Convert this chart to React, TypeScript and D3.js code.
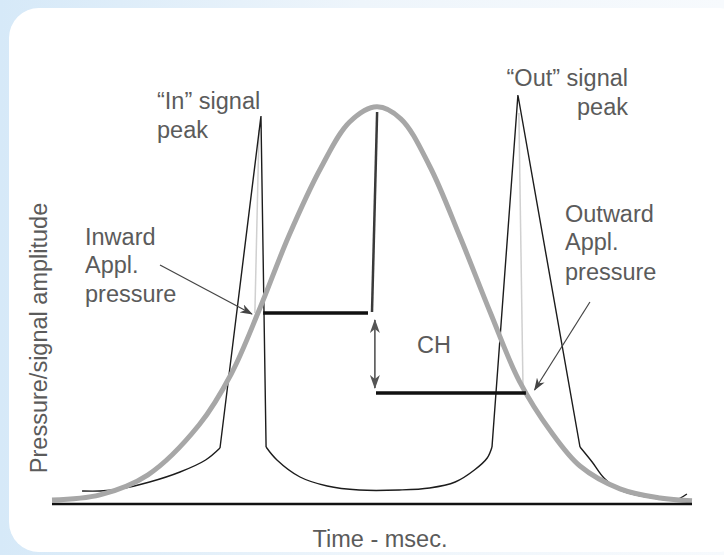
import * as d3 from 'd3';

// time axis in msec (0..200), amplitude in % (0..100)
const pressureT = [0, 15, 30, 46, 56, 65, 74, 84, 93, 101.5, 109, 118, 127.5, 137, 146, 156, 165, 177.5, 190, 200];
const pressureV = [1, 2.3, 7.3, 19.8, 32.5, 49, 67, 84, 95.5, 99.3, 96.3, 84.5, 66.8, 47.8, 30.8, 18, 9.5, 3.8, 1.5, 0.8];

const tailInT = [9.4, 15, 21, 30.5, 40, 48, 52.5];
const tailInV = [3.25, 3.25, 3.75, 5.5, 8, 11, 14];
const spikeInT = [52.5, 65.3, 66.9];
const spikeInV = [14, 97, 14.25];
const troughT = [66.9, 70.3, 77.5, 86, 96, 108.5, 118, 126, 132, 136, 137.5];
const troughV = [14.25, 11, 6.75, 4.5, 3.5, 3.5, 4, 5.5, 8.5, 11.5, 14.25];
const spikeOutT = [137.5, 145.6, 165];
const spikeOutV = [14.25, 102.25, 14.25];
const tailOutT = [165, 168.8, 172.5, 177.5, 187.8, 194.7, 198.4];
const tailOutV = [14.25, 10.5, 6.5, 3.5, 1.5, 1, 2.5];

const ghostIn = [[64.7, 93.5], [63.4, 47.75]];
const ghostOut = [[145.9, 97.75], [147.2, 28.5]];
const peakLine = [[101.6, 98], [100, 48]];
const applIn = [[66, 47.75], [98.75, 47.75]];
const applOut = [[101.25, 27.75], [148.1, 27.75]];
const chArrow = [[100.9, 46], [100.9, 29]];
const inwardArrow = [[33.75, 59.75], [62.5, 47.5]];
const outwardArrow = [[168.1, 50.5], [150.8, 28.5]];

const textColor = '#5b5b5b';
const font = '"Liberation Sans", Arial, Helvetica, sans-serif';

export default function App() {
  const width = 724;
  const height = 555;
  const x = d3.scaleLinear().domain([0, 200]).range([52, 692]);
  const y = d3.scaleLinear().domain([0, 100]).range([504, 104]);

  const series = (ts: number[], vs: number[], curve: d3.CurveFactory) =>
    d3
      .line<number>()
      .x((_, i) => x(ts[i]))
      .y((_, i) => y(vs[i]))
      .curve(curve)(ts) || '';
  const seg = (pts: number[][]) =>
    d3
      .line<number[]>()
      .x((d) => x(d[0]))
      .y((d) => y(d[1]))(pts) || '';

  const labelStyle = { fontFamily: font, fontSize: 23.5, fill: textColor };

  return (
    <svg
      width={width}
      height={height}
      style={{ position: 'fixed', left: 0, top: 0 }}
    >
      <defs>
        <linearGradient id="bg" x1="0" y1="0" x2="1" y2="0">
          <stop offset="0" stopColor="#d6e9f8" />
          <stop offset="0.5" stopColor="#eef5fb" />
          <stop offset="1" stopColor="#f7fafd" />
        </linearGradient>
        <marker
          id="head"
          viewBox="0 0 14 10"
          refX="13"
          refY="5"
          markerWidth="14"
          markerHeight="10"
          markerUnits="userSpaceOnUse"
          orient="auto-start-reverse"
        >
          <path d="M0,0 L14,5 L0,10 L4,5 Z" fill="#555" />
        </marker>
        <marker
          id="headSmall"
          viewBox="0 0 14 10"
          refX="13"
          refY="5"
          markerWidth="13"
          markerHeight="9"
          markerUnits="userSpaceOnUse"
          orient="auto"
        >
          <path d="M0,0 L14,5 L0,10 L4,5 Z" fill="#444" />
        </marker>
      </defs>

      <rect width={width} height={height} fill="url(#bg)" />
      <rect x={9} y={8} width={740} height={544} rx={30} fill="#fff" />

      {/* ghost lines inside the spikes */}
      <path d={seg(ghostIn)} stroke="#d0d0d0" strokeWidth={1.5} fill="none" />
      <path d={seg(ghostOut)} stroke="#d0d0d0" strokeWidth={1.5} fill="none" />

      {/* signal */}
      <g fill="none" stroke="#1c1c1c" strokeWidth={1.4} strokeLinejoin="miter">
        <path d={series(tailInT, tailInV, d3.curveCatmullRom)} />
        <path d={series(spikeInT, spikeInV, d3.curveLinear)} />
        <path d={series(troughT, troughV, d3.curveCatmullRom)} />
        <path d={series(spikeOutT, spikeOutV, d3.curveLinear)} />
        <path d={series(tailOutT, tailOutV, d3.curveCatmullRom)} />
      </g>

      {/* applanation pressure */}
      <path
        d={series(pressureT, pressureV, d3.curveCatmullRom)}
        fill="none"
        stroke="#a7a7a7"
        strokeWidth={5}
        strokeLinecap="butt"
      />

      {/* time axis */}
      <line x1={x(0)} x2={x(200)} y1={y(0)} y2={y(0)} stroke="#111" strokeWidth={2.5} />

      <path d={seg(peakLine)} stroke="#3a3a3a" strokeWidth={2.5} fill="none" />
      <path d={seg(applIn)} stroke="#111" strokeWidth={3.5} fill="none" />
      <path d={seg(applOut)} stroke="#111" strokeWidth={3.5} fill="none" />

      <path
        d={seg(chArrow)}
        stroke="#555"
        strokeWidth={1.6}
        fill="none"
        markerStart="url(#head)"
        markerEnd="url(#head)"
      />
      <path
        d={seg(inwardArrow)}
        stroke="#444"
        strokeWidth={1.2}
        fill="none"
        markerEnd="url(#headSmall)"
      />
      <path
        d={seg(outwardArrow)}
        stroke="#444"
        strokeWidth={1.2}
        fill="none"
        markerEnd="url(#headSmall)"
      />

      <g style={labelStyle}>
        <text x={157} y={109}>“In” signal</text>
        <text x={157} y={138}>peak</text>
        <text x={628} y={86} textAnchor="end">“Out” signal</text>
        <text x={628} y={115} textAnchor="end">peak</text>
        <text x={85} y={245}>Inward</text>
        <text x={85} y={273}>Appl.</text>
        <text x={85} y={302}>pressure</text>
        <text x={565} y={222}>Outward</text>
        <text x={565} y={250}>Appl.</text>
        <text x={565} y={280}>pressure</text>
        <text x={417} y={353}>CH</text>
        <text x={380} y={547} textAnchor="middle">Time - msec.</text>
        <text
          transform={`translate(47,${338}) rotate(-90)`}
          textAnchor="middle"
        >
          Pressure/signal amplitude
        </text>
      </g>
    </svg>
  );
}
